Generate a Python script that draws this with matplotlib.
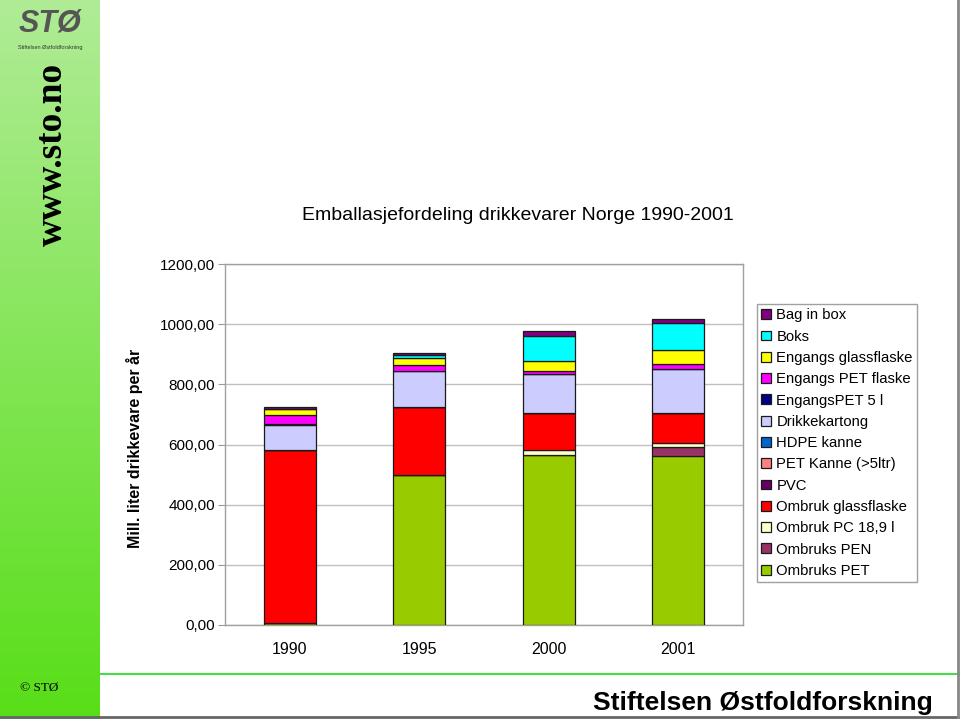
import matplotlib

matplotlib.use("Agg")

import matplotlib.pyplot as plt  # noqa: E402
import numpy as np  # noqa: E402
from matplotlib.lines import Line2D  # noqa: E402

plt.rcParams["font.family"] = ["Liberation Sans", "DejaVu Sans"]

years = ["1990", "1995", "2000", "2001"]

# stacking order, bottom to top (legend is shown reversed)
series = [
    "Ombruks PET", "Ombruks PEN", "Ombruk PC 18,9 l", "Ombruk glassflaske",
    "PVC", "PET Kanne (>5ltr)", "HDPE kanne", "Drikkekartong",
    "EngangsPET 5 l", "Engangs PET flaske", "Engangs glassflaske", "Boks",
    "Bag in box",
]
colors = [
    "#99cc00", "#993366", "#ffffcc", "#ff0000",
    "#660066", "#ff8080", "#0066cc", "#ccccff",
    "#000080", "#ff00ff", "#ffff00", "#00ffff",
    "#800080",
]

ombruks_pet = [8, 499, 565, 563]
ombruks_pen = [0, 0, 0, 30]
ombruk_pc = [0, 0, 17, 13]
ombruk_glass = [574, 227, 122, 98]
pvc = [0, 0, 0, 0]
pet_kanne = [0, 0, 0, 0]
hdpe_kanne = [0, 0, 0, 0]
drikkekartong = [82, 119, 129, 146]
engangs_pet5 = [3, 0, 0, 0]
engangs_pet = [31, 19, 11, 17]
engangs_glass = [20, 25, 34, 47]
boks = [0, 10, 83, 89]
bag_in_box = [6, 4, 16, 15]

values = [ombruks_pet, ombruks_pen, ombruk_pc, ombruk_glass, pvc, pet_kanne,
          hdpe_kanne, drikkekartong, engangs_pet5, engangs_pet, engangs_glass,
          boks, bag_in_box]

W, H = 960, 719
fig = plt.figure(figsize=(W / 100, H / 100), dpi=100)

# green side band with gradient
band = fig.add_axes((0, 0, 100 / W, 1))
grad = np.linspace(0, 1, 256)[:, None]
top_c = np.array([176, 236, 150]) / 255
bot_c = np.array([88, 222, 24]) / 255
img = top_c[None, None, :] * (1 - grad[..., None]) + bot_c[None, None, :] * grad[..., None]
band.imshow(img, aspect="auto", extent=(0, 1, 0, 1))
band.set_xlim(0, 1)
band.set_ylim(0, 1)
band.axis("off")
band.text(0.52, 1 - 154 / H, "www.sto.no", rotation=90, ha="center", va="center",
          family=["Liberation Serif", "DejaVu Serif"], fontweight="bold",
          fontsize=27, color="black")
band.text(0.2, 1 - 688 / H, "© STØ", ha="left", va="center",
          family=["Liberation Serif", "DejaVu Serif"], fontsize=9.5)
# simple logo
band.text(0.5, 1 - 24 / H, "STØ", ha="center", va="center", fontsize=22,
          fontweight="bold", fontstyle="italic", color="#555555")
band.text(0.5, 1 - 48 / H, "Stiftelsen Østfoldforskning", ha="center",
          va="center", fontsize=4, color="#333333")

# frame lines of the slide
fig.add_artist(Line2D([100 / W, 1], [1 - 674 / H] * 2, color="#44dd44", lw=1.5))
fig.add_artist(Line2D([0, 1], [1 - 717 / H] * 2, color="#666666", lw=2))
fig.add_artist(Line2D([958 / W] * 2, [0, 1], color="#888888", lw=2))

fig.text(763 / W, 1 - 703 / H, "Stiftelsen Østfoldforskning", ha="center",
         va="center", fontsize=19, fontweight="bold")

fig.text(518 / W, 1 - 215 / H, "Emballasjefordeling drikkevarer Norge 1990-2001",
         ha="center", va="center", fontsize=14)

ax = fig.add_axes((225 / W, 1 - 625 / H, 518 / W, 361 / H))
x = np.arange(len(years))
bottom = np.zeros(len(years))
for name, col, vals in zip(series, colors, values):
    v = np.array(vals, dtype=float)
    ax.bar(x, v, 0.4, bottom=bottom, color=col, edgecolor="#1a1a1a",
           linewidth=0.9, label=name, zorder=3)
    bottom += v

ax.set_xlim(-0.5, 3.5)
ax.set_ylim(0, 1200)
ax.set_yticks(np.arange(0, 1201, 200))
ax.set_yticklabels([f"{v:.2f}".replace(".", ",") for v in np.arange(0, 1201, 200)],
                   fontsize=11)
ax.set_xticks(x)
ax.set_xticklabels(years, fontsize=11.5)
ax.tick_params(axis="x", length=0, pad=12)
ax.tick_params(axis="y", length=5, color="#999999", pad=2)
ax.grid(axis="y", color="#c0c0c0", lw=1, zorder=0)
for s in ax.spines.values():
    s.set_color("#a0a0a0")
    s.set_linewidth(1)
ax.set_ylabel("Mill. liter drikkevare per år", fontsize=11.5, fontweight="bold")
ax.yaxis.set_label_coords(-(225 - 143) / 518, 0.49)

handles, labels = ax.get_legend_handles_labels()
leg = fig.legend(handles[::-1], labels[::-1], loc="upper left",
                 bbox_to_anchor=(757 / W, 1 - 304 / H), fontsize=10.7,
                 handlelength=0.65, handleheight=0.65, handletextpad=0.35,
                 labelspacing=0.49, borderpad=0.3, borderaxespad=0,
                 fancybox=False, edgecolor="#a0a0a0", framealpha=1)
leg.get_frame().set_linewidth(1)

fig.savefig("out.png", dpi=100)
